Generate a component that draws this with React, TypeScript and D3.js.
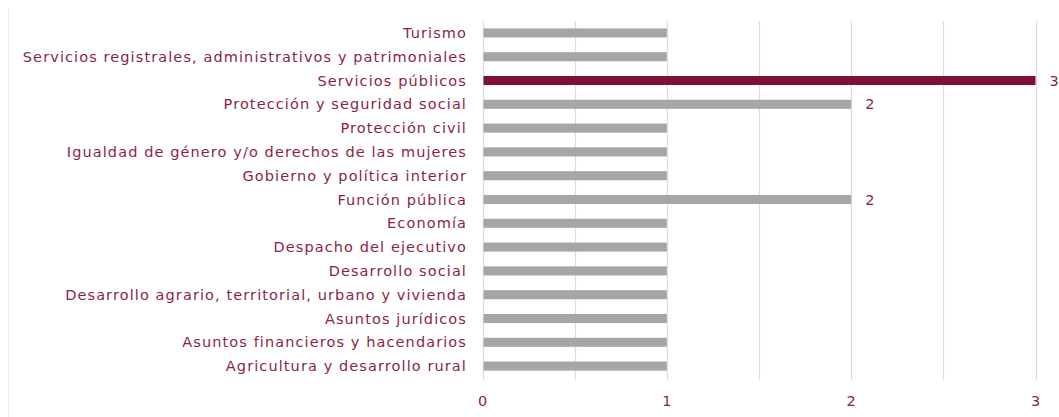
import React from "react";
import * as d3 from "d3";

const categories = [
  "Turismo",
  "Servicios registrales, administrativos y patrimoniales",
  "Servicios públicos",
  "Protección y seguridad social",
  "Protección civil",
  "Igualdad de género y/o derechos de las mujeres",
  "Gobierno y política interior",
  "Función pública",
  "Economía",
  "Despacho del ejecutivo",
  "Desarrollo social",
  "Desarrollo agrario, territorial, urbano y vivienda",
  "Asuntos jurídicos",
  "Asuntos financieros y hacendarios",
  "Agricultura y desarrollo rural",
];
const values = [1, 1, 3, 2, 1, 1, 1, 2, 1, 1, 1, 1, 1, 1, 1];
const highlighted = ["Servicios públicos"];
const xTicks = [0, 1, 2, 3];
const gridTicks = [0, 0.5, 1, 1.5, 2, 2.5, 3];

const W = 1059;
const H = 417;
const LABEL_COLOR = "#8a1f47";
const GREY = "#a6a6a6";
const RED = "#7f1234";
const FONT = "'DejaVu Sans', sans-serif";
const FS = 14.5;
const LS = 1.1;

export default function App() {
  const x = d3.scaleLinear().domain([0, 3]).range([482.5, 1035.5]);
  const y = d3.scaleBand().domain(categories).range([21, 378]).paddingInner(0.62).paddingOuter(0.31);
  const bh = y.bandwidth();
  return (
    <svg
      width={W}
      height={H}
      style={{ position: "absolute", left: 0, top: 0, background: "#fff" }}
    >
      <line x1={8.5} x2={8.5} y1={8} y2={H} stroke="#ececec" strokeWidth={1} />
      {gridTicks.map((t) => (
        <line
          key={t}
          x1={Math.round(x(t)) + 0.5}
          x2={Math.round(x(t)) + 0.5}
          y1={21}
          y2={380}
          stroke="#dcdcdc"
          strokeWidth={1.2}
        />
      ))}
      {categories.map((c, i) => {
        const yy = y(c)!;
        const isHi = highlighted.includes(c);
        return (
          <g key={c}>
            <rect
              x={x(0) + 1}
              y={yy}
              width={x(values[i]) - x(0) - 1}
              height={bh}
              fill={isHi ? RED : GREY}
            />
            <text
              x={467}
              y={yy + bh / 2}
              dy="0.35em"
              textAnchor="end"
              fontFamily={FONT}
              fontSize={FS}
              letterSpacing={LS}
              fill={LABEL_COLOR}
            >
              {c}
            </text>
            {values[i] > 1 && (
              <text
                x={x(values[i]) + 14}
                y={yy + bh / 2}
                dy="0.35em"
                fontFamily={FONT}
                fontSize={FS}
                fill={LABEL_COLOR}
              >
                {values[i]}
              </text>
            )}
          </g>
        );
      })}
      {xTicks.map((t) => (
        <text
          key={t}
          x={x(t)}
          y={401}
          dy="0.35em"
          textAnchor="middle"
          fontFamily={FONT}
          fontSize={FS}
          fill={LABEL_COLOR}
        >
          {t}
        </text>
      ))}
    </svg>
  );
}
